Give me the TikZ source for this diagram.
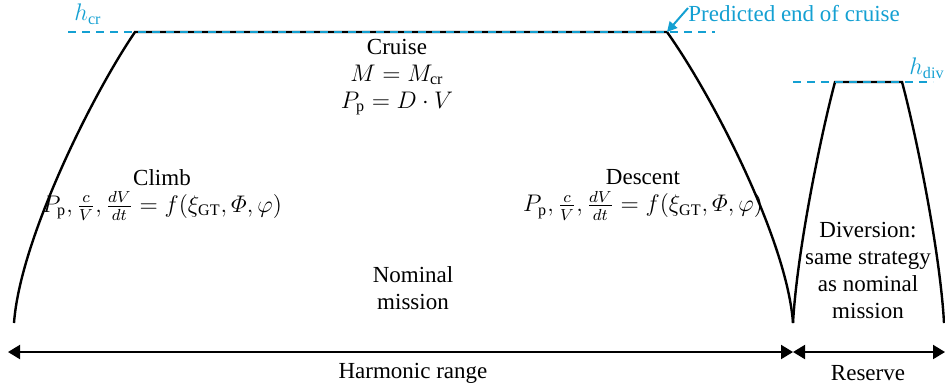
\documentclass[tikz,border=0pt]{standalone}
\usepackage{amsmath}
\usepackage{fontspec}
\setmainfont{Liberation Serif}
\usetikzlibrary{arrows.meta}
\definecolor{hblue}{RGB}{20,160,210}
\begin{document}
\begin{tikzpicture}[x=0.5pt,y=-0.5pt,
  prof/.style={line width=1.2pt},
  lvl/.style={hblue,line width=1pt,dash pattern=on 4pt off 3pt},
  txt/.style={font=\rmfamily\fontsize{11.5}{13.5}\selectfont,align=center,inner sep=0pt},
  dim/.style={line width=1pt,{Triangle[length=6pt,width=7pt]}-{Triangle[length=6pt,width=7pt]}}]
\useasboundingbox (0,0) rectangle (945,388);
% main mission profile
\coordinate (s0) at (14,323);
\coordinate (s1) at (135,32);
\coordinate (s2) at (667,32);
\coordinate (s3) at (793,323);
\draw[prof] (s0) .. controls (20,240) and (92,95) .. (s1) -- (s2)
  .. controls (712,95) and (787,240) .. (s3);
% diversion profile
\coordinate (d1) at (835,82);
\coordinate (d2) at (902,82);
\coordinate (d3) at (944,323);
\draw[prof] (s3) .. controls (797,250) and (822,130) .. (d1) -- (d2)
  .. controls (915,130) and (940,250) .. (d3);
% altitude levels
\coordinate (hc0) at (68,32);
\coordinate (hc1) at (715,32);
\coordinate (hd0) at (793,82);
\coordinate (hd1) at (933,82);
\draw[lvl] (hc0) -- (hc1);
\draw[lvl] (hd0) -- (hd1);
\node[txt,hblue] (hcr) at (88,14) {$h_{\mathrm{cr}}$};
\node[txt,hblue] (hdiv) at (927,68) {$h_{\mathrm{div}}$};
\node[txt,hblue,anchor=west] (pec) at (688,14) {Predicted end of cruise};
\draw[hblue,line width=1pt,-{Triangle[length=5pt,width=5pt]}] (pec.west) ++(0,3pt) -- (s2);
% texts
\node[txt] (cruise) at (397,77) {Cruise\\$M=M_{\mathrm{cr}}$\\$P_{\mathrm{p}}=D\cdot V$};
\node[txt] (climb) at (162,195) {Climb\\$P_{\mathrm{p}},\tfrac{c}{V},\tfrac{dV}{dt}=f(\xi_{\mathrm{GT}},\varPhi,\varphi)$};
\node[txt] (descent) at (643,195) {Descent\\$P_{\mathrm{p}},\tfrac{c}{V},\tfrac{dV}{dt}=f(\xi_{\mathrm{GT}},\varPhi,\varphi)$};
\node[txt] (nominal) at (413,288) {Nominal\\mission};
\node[txt] (div) at (868,270) {Diversion:\\same strategy\\as nominal\\mission};
% range arrows
\coordinate (a0) at (8,352);
\coordinate (a1) at (793,352);
\coordinate (a2) at (945,352);
\draw[dim] (a0) -- (a1);
\draw[dim] (a1) -- (a2);
\node[txt] (harm) at (413,373) {Harmonic range};
\node[txt] (res) at (868,373) {Reserve};
\end{tikzpicture}
\end{document}
